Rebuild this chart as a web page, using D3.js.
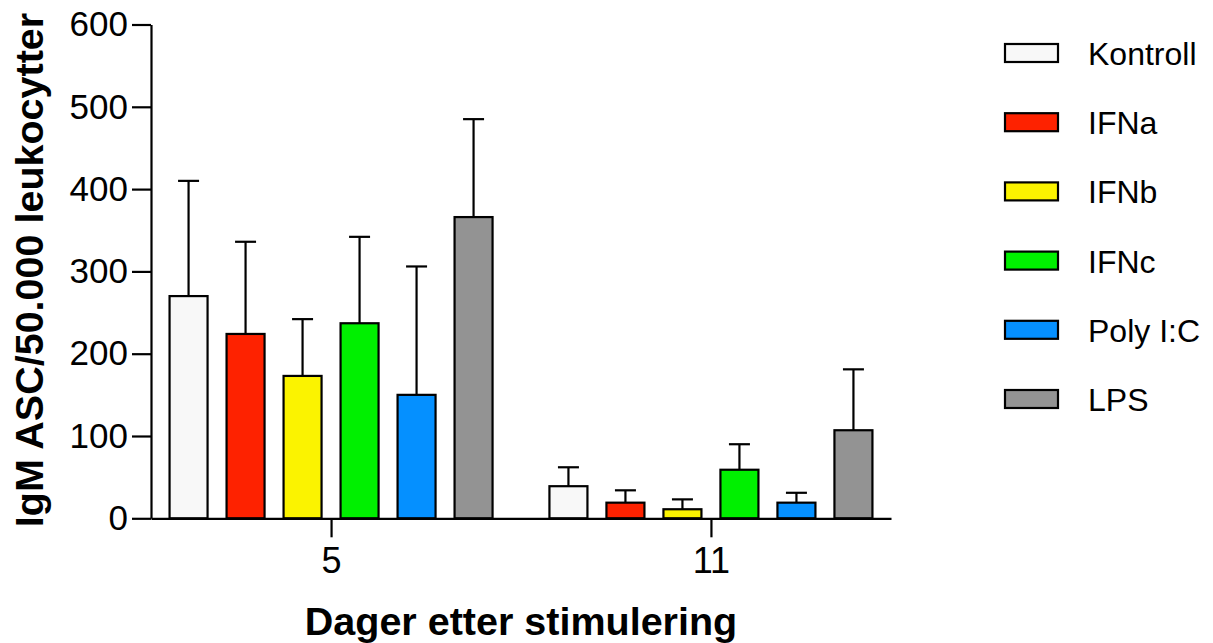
<!DOCTYPE html>
<html>
<head>
<meta charset="utf-8">
<script src="https://cdn.jsdelivr.net/npm/d3@7"></script>
<style>
  html, body { margin: 0; padding: 0; background: #fff; }
  svg { display: block; }
  text { font-family: "Liberation Sans", Arial, Helvetica, sans-serif; fill: #000; }
</style>
</head>
<body>
<svg id="chart" width="1213" height="643"></svg>
<script>
// Days after stimulation (x groups)
const days = ["5", "11"];
// Treatments (bars within each group)
const treatments = ["Kontroll", "IFNa", "IFNb", "IFNc", "Poly I:C", "LPS"];
const colors = ["#f8f8f8", "#fe2200", "#fbf300", "#00f000", "#0590ff", "#939393"];
// Mean IgM ASC per 50,000 leukocytes, per treatment
const meanDay5 = [270, 224, 173, 237, 150, 366];
const meanDay11 = [39, 19, 11, 59, 19, 107];
// Mean + SD (top of error bar)
const upperDay5 = [410, 336, 242, 342, 306, 485];
const upperDay11 = [62, 34, 23, 90, 31, 181];
// Y-axis ticks
const yTicks = [0, 100, 200, 300, 400, 500, 600];

const rows = [];
days.forEach((d, di) => {
  const means = di === 0 ? meanDay5 : meanDay11;
  const uppers = di === 0 ? upperDay5 : upperDay11;
  treatments.forEach((t, ti) => {
    rows.push({ day: d, treatment: t, color: colors[ti], mean: means[ti], upper: uppers[ti] });
  });
});

const svg = d3.select("#chart");
const plot = { left: 151, right: 891, top: 24.5, bottom: 518.3 };

const y = d3.scaleLinear().domain([0, 600]).range([plot.bottom, plot.top]);
const x0 = d3.scalePoint().domain(days).range([plot.left, plot.right]).padding(0.474);
const x1 = d3.scaleBand().domain(treatments).range([-171, 171]).paddingInner(1 / 3).paddingOuter(1 / 6);

const g = svg.append("g");

// Bars
g.selectAll("rect.bar")
  .data(rows)
  .join("rect")
  .attr("class", "bar")
  .attr("x", d => x0(d.day) + x1(d.treatment))
  .attr("width", x1.bandwidth())
  .attr("y", d => y(d.mean))
  .attr("height", d => y(0) - y(d.mean))
  .attr("fill", d => d.color)
  .attr("stroke", "#000")
  .attr("stroke-width", 2.2);

// Error bars (upper only)
const capW = 21;
const err = g.selectAll("g.err").data(rows).join("g").attr("class", "err");
err.append("line")
  .attr("x1", d => x0(d.day) + x1(d.treatment) + x1.bandwidth() / 2)
  .attr("x2", d => x0(d.day) + x1(d.treatment) + x1.bandwidth() / 2)
  .attr("y1", d => y(d.mean))
  .attr("y2", d => y(d.upper))
  .attr("stroke", "#000").attr("stroke-width", 2.2);
err.append("line")
  .attr("x1", d => x0(d.day) + x1(d.treatment) + x1.bandwidth() / 2 - capW / 2)
  .attr("x2", d => x0(d.day) + x1(d.treatment) + x1.bandwidth() / 2 + capW / 2)
  .attr("y1", d => y(d.upper))
  .attr("y2", d => y(d.upper))
  .attr("stroke", "#000").attr("stroke-width", 2.2);

// Y axis
const yAxis = d3.axisLeft(y).tickValues(yTicks).tickSize(19).tickPadding(4).tickSizeOuter(0);
const yG = svg.append("g").attr("transform", `translate(${plot.left},0)`).call(yAxis);
yG.select(".domain").attr("stroke-width", 2.2);
yG.selectAll(".tick line").attr("stroke-width", 2.2);
yG.selectAll(".tick text").attr("font-size", 35).attr("font-family", "Liberation Sans, Arial, sans-serif");

// X axis
const xScaleAxis = d3.axisBottom(x0).tickSize(19).tickPadding(10).tickSizeOuter(0);
const xG = svg.append("g").attr("transform", `translate(0,${plot.bottom})`).call(xScaleAxis);
xG.select(".domain").attr("stroke-width", 2.2);
xG.selectAll(".tick line").attr("stroke-width", 2.2);
xG.selectAll(".tick text").attr("font-size", 36).attr("font-family", "Liberation Sans, Arial, sans-serif");

// Axis titles
svg.append("text")
  .attr("transform", "translate(43,270) rotate(-90)")
  .attr("text-anchor", "middle")
  .attr("font-size", 39.5)
  .attr("font-weight", "bold")
  .text("IgM ASC/50.000 leukocytter");

svg.append("text")
  .attr("x", 521)
  .attr("y", 635)
  .attr("text-anchor", "middle")
  .attr("font-size", 39.5)
  .attr("font-weight", "bold")
  .text("Dager etter stimulering");

// Legend
const legendY = d3.scalePoint().domain(treatments).range([53, 399]);
const leg = svg.append("g").selectAll("g").data(treatments).join("g")
  .attr("transform", t => `translate(1005,${legendY(t)})`);
leg.append("rect")
  .attr("x", 0).attr("y", -9).attr("width", 53).attr("height", 18)
  .attr("fill", (t, i) => colors[i])
  .attr("stroke", "#000").attr("stroke-width", 2.2);
leg.append("text")
  .attr("x", 83).attr("y", 12)
  .attr("font-size", 32)
  .text(t => t);
</script>
</body>
</html>
